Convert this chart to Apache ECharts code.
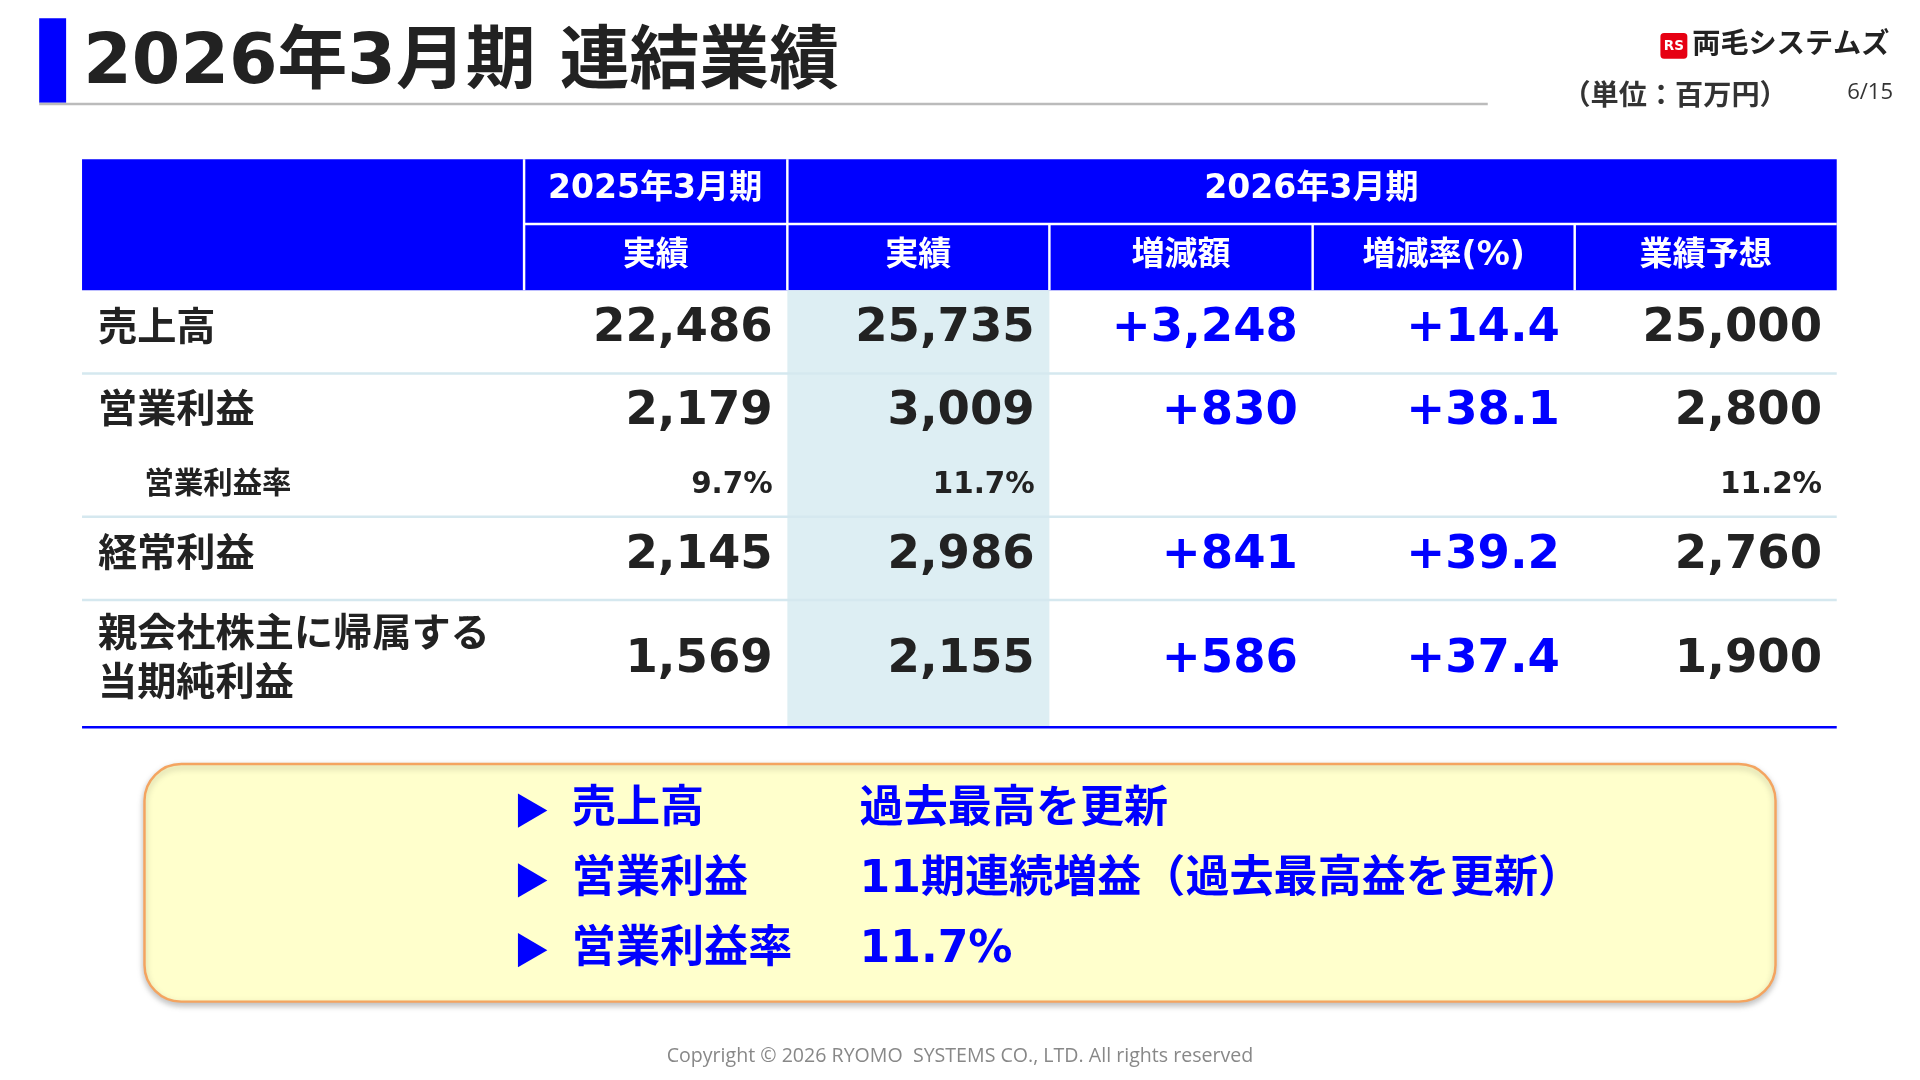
<!DOCTYPE html>
<html><head><meta charset="utf-8">
<script src="https://cdn.jsdelivr.net/npm/echarts@6/dist/echarts.min.js"></script>
<style>html,body{margin:0;padding:0;background:#fff}#c{width:1920px;height:1080px}</style>
</head><body><div id="c"></div>
<script>
const rowLabels = ['売上高','営業利益','営業利益率','経常利益','親会社株主に帰属する\n当期純利益'];
const fy2025 = ['22,486','2,179','9.7%','2,145','1,569'];
const fy2026 = ['25,735','3,009','11.7%','2,986','2,155'];
const diffAmt = ['+3,248','+830','','+841','+586'];
const diffRate = ['+14.4','+38.1','','+39.2','+37.4'];
const forecast = ['25,000','2,800','11.2%','2,760','1,900'];
const subHeaders = ['実績','実績','増減額','増減率(%)','業績予想'];
const bullets = [['売上高','過去最高を更新'],['営業利益','11期連続増益（過去最高益を更新）'],['営業利益率','11.7%']];

const F = '"DejaVu Sans","Noto Sans CJK JP",sans-serif';
const F2 = '"Open Sans","Noto Sans",sans-serif';
const BLUE = '#0000FF';
const cols = [67,428,643,857,1072,1286,1500];
const el = [];
const rect=(x,y,w,h,fill,extra)=>el.push(Object.assign({type:'rect',shape:{x,y,width:w,height:h},style:{fill}},extra||{}));
const text=(x,y,t,size,fill,align,weight,extra)=>el.push({type:'text',x,y:y+3,style:Object.assign({text:t,fontSize:size,fill,align:align||'left',verticalAlign:'middle',fontFamily:F,fontWeight:weight||'bold'},extra||{})});
const line=(x1,y1,x2,y2,stroke,w)=>el.push({type:'line',shape:{x1,y1,x2,y2},style:{stroke,lineWidth:w}});

rect(32,15,22,69,BLUE);
text(68,50,'2026年3月期 連結業績',57,'#222','left','bold');
line(32,85,1215,85,'#bbbbbb',2);
rect(1356,27,22,21,'#e60012',{shape:{x:1356,y:27,width:22,height:21,r:3}});
text(1367,35,'RS',11,'#fff','center','bold');
text(1382,34,'両毛システムズ',23,'#222','left','bold');
text(1276,77,'（単位：百万円）',23,'#333','left','bold');
text(1546,73,'6/15',18,'#333','right','normal',{fontFamily:F2});

rect(67,130,1433,107,BLUE);
line(428,130,428,237,'#fff',2);
line(643,130,643,237,'#fff',2);
line(428,183,1500,183,'#fff',2);
for(let i=3;i<6;i++) line(cols[i],183,cols[i],237,'#fff',2);
text(535,152,'2025年3月期',27,'#fff','center');
text(1071,152,'2026年3月期',27,'#fff','center');
for(let i=0;i<5;i++) text((cols[i+1]+cols[i+2])/2,206,subHeaders[i],27,'#fff','center');

rect(643,237,214,356,'#DDEEF3');
[305,422,490].forEach(y=>line(67,y,1500,y,'#d5e8ef',2));
line(67,594,1500,594,BLUE,2);

const colsData=[fy2025,fy2026,diffAmt,diffRate,forecast];
const cys=[266,333,393,451,536];
for(let r=0;r<5;r++){
  const cy=cys[r];
  const small = r===2;
  text(small?118:80,cy,rowLabels[r],small?24:32,'#222','left','bold',{lineHeight:40});
  for(let c=0;c<5;c++){
    const v=colsData[c][r]; if(!v) continue;
    text(cols[c+2]-12,cy,v,small?24:38,(c===2||c===3)?BLUE:'#222','right','bold');
  }
}

el.push({type:'rect',shape:{x:118,y:624,width:1332,height:194,r:30},style:{fill:'#FFFFCC',stroke:'#F4A460',lineWidth:2,shadowBlur:6,shadowColor:'rgba(0,0,0,0.25)',shadowOffsetY:3}});
bullets.forEach((b,i)=>{
  const y=662+i*57;
  el.push({type:'polygon',shape:{points:[[423,y-14],[423,y+14],[447,y]]},style:{fill:BLUE}});
  text(467,y-3,b[0],36,BLUE,'left','bold');
  text(702,y-3,b[1],36,BLUE,'left','bold');
});
text(784,860,'Copyright © 2026 RYOMO  SYSTEMS CO., LTD. All rights reserved',16,'#888','center','normal',{fontFamily:F2});

const s=1920/1568;
const chart=echarts.init(document.getElementById('c'));
chart.setOption({animation:false,graphic:[{type:'group',scaleX:s,scaleY:s,children:el}]});
</script></body></html>
